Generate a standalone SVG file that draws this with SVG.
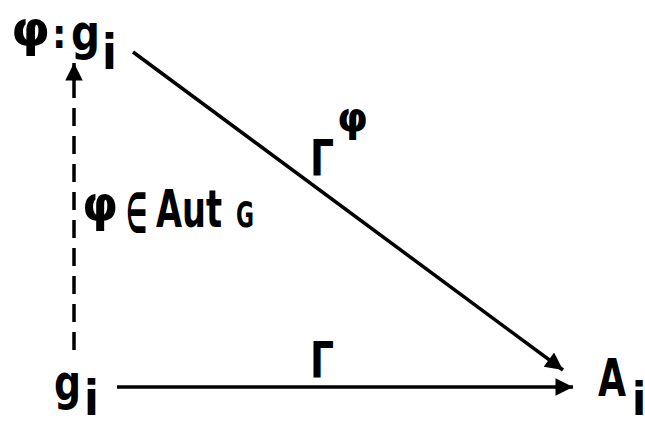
<svg xmlns="http://www.w3.org/2000/svg" width="645" height="421" viewBox="0 0 645 421">
<defs>
<style>
.t{font-family:"DejaVu Sans Condensed","DejaVu Sans",sans-serif;font-weight:bold;fill:#000;}
.ln{stroke:#000;stroke-width:3.5;fill:none;}
</style>
<marker id="ah" viewBox="0 0 10 10" refX="10" refY="5" markerWidth="6.5" markerHeight="5" markerUnits="strokeWidth" orient="auto">
<path d="M0,0 L10,5 L0,10 Z" fill="#000"/>
</marker>
</defs>
<g id="connectors">
<line class="ln" x1="74" y1="350" x2="74" y2="63" stroke-width="4" stroke-dasharray="18,10" marker-end="url(#ah)"/>
<line class="ln" x1="133" y1="52" x2="563" y2="370" marker-end="url(#ah)"/>
<line class="ln" x1="117" y1="387" x2="573" y2="387" marker-end="url(#ah)"/>
</g>
<g id="node-phi-gi">
<text class="t" x="11" y="46" font-size="50" textLength="39" lengthAdjust="spacingAndGlyphs">φ</text>
<text class="t" x="52" y="48" font-size="40">:</text>
<text class="t" x="71" y="50" font-size="50" textLength="29" lengthAdjust="spacingAndGlyphs">g</text>
<text class="t" x="102" y="69" font-size="48">i</text>
</g>
<g id="node-gi">
<text class="t" x="54" y="400" font-size="50" textLength="27" lengthAdjust="spacingAndGlyphs">g</text>
<text class="t" x="84" y="415" font-size="48">i</text>
</g>
<g id="node-Ai">
<text class="t" x="598" y="396" font-size="52" textLength="28" lengthAdjust="spacingAndGlyphs">A</text>
<text class="t" x="632" y="415" font-size="46">i</text>
</g>
<g id="label-gamma-phi">
<text class="t" x="310" y="175" font-size="50" textLength="24" lengthAdjust="spacingAndGlyphs">Γ</text>
<text class="t" x="337" y="131" font-size="40" textLength="31" lengthAdjust="spacingAndGlyphs">φ</text>
</g>
<g id="label-gamma">
<text class="t" x="310" y="377" font-size="50" textLength="24" lengthAdjust="spacingAndGlyphs">Γ</text>
</g>
<g id="label-aut">
<text class="t" x="82" y="221" font-size="50" textLength="36" lengthAdjust="spacingAndGlyphs">φ</text>
<text class="t" x="126" y="233" font-size="56" textLength="21" lengthAdjust="spacingAndGlyphs">∈</text>
<text class="t" x="156" y="227" font-size="51" textLength="66" lengthAdjust="spacingAndGlyphs">Aut</text>
<text class="t" x="236" y="227" font-size="36" textLength="18" lengthAdjust="spacingAndGlyphs">G</text>
</g>
</svg>
